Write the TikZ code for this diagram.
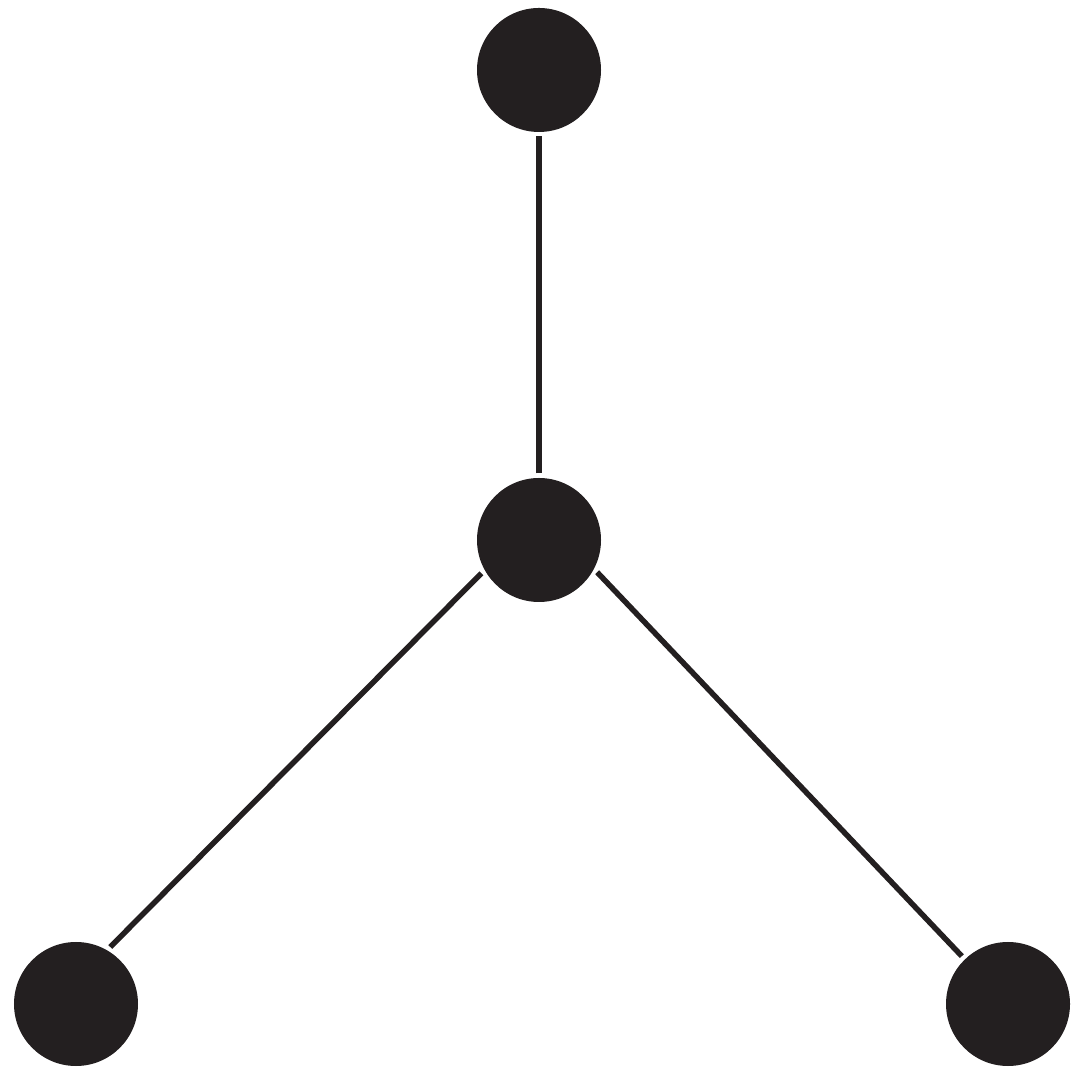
\documentclass[tikz,border=0pt]{standalone}
\definecolor{ink}{HTML}{231F20}
\begin{document}
\begin{tikzpicture}[vertex/.style={circle,fill=ink,inner sep=0pt,minimum size=1.24cm,outer sep=0.045cm},edge/.style={draw=ink,line width=0.055cm}]
				\useasboundingbox (0,0) rectangle (10.8,10.8);
				\node[vertex] (top) at (5.39,10.10) {};
				\node[vertex] (mid) at (5.39,5.40) {};
				\node[vertex] (left) at (0.76,0.76) {};
				\node[vertex] (right) at (10.08,0.76) {};
				\draw[edge] (mid)--(top);
				\draw[edge] (mid.210)--(left.59);
				\draw[edge] (mid.331)--(right.134);
			\end{tikzpicture}
\end{document}
